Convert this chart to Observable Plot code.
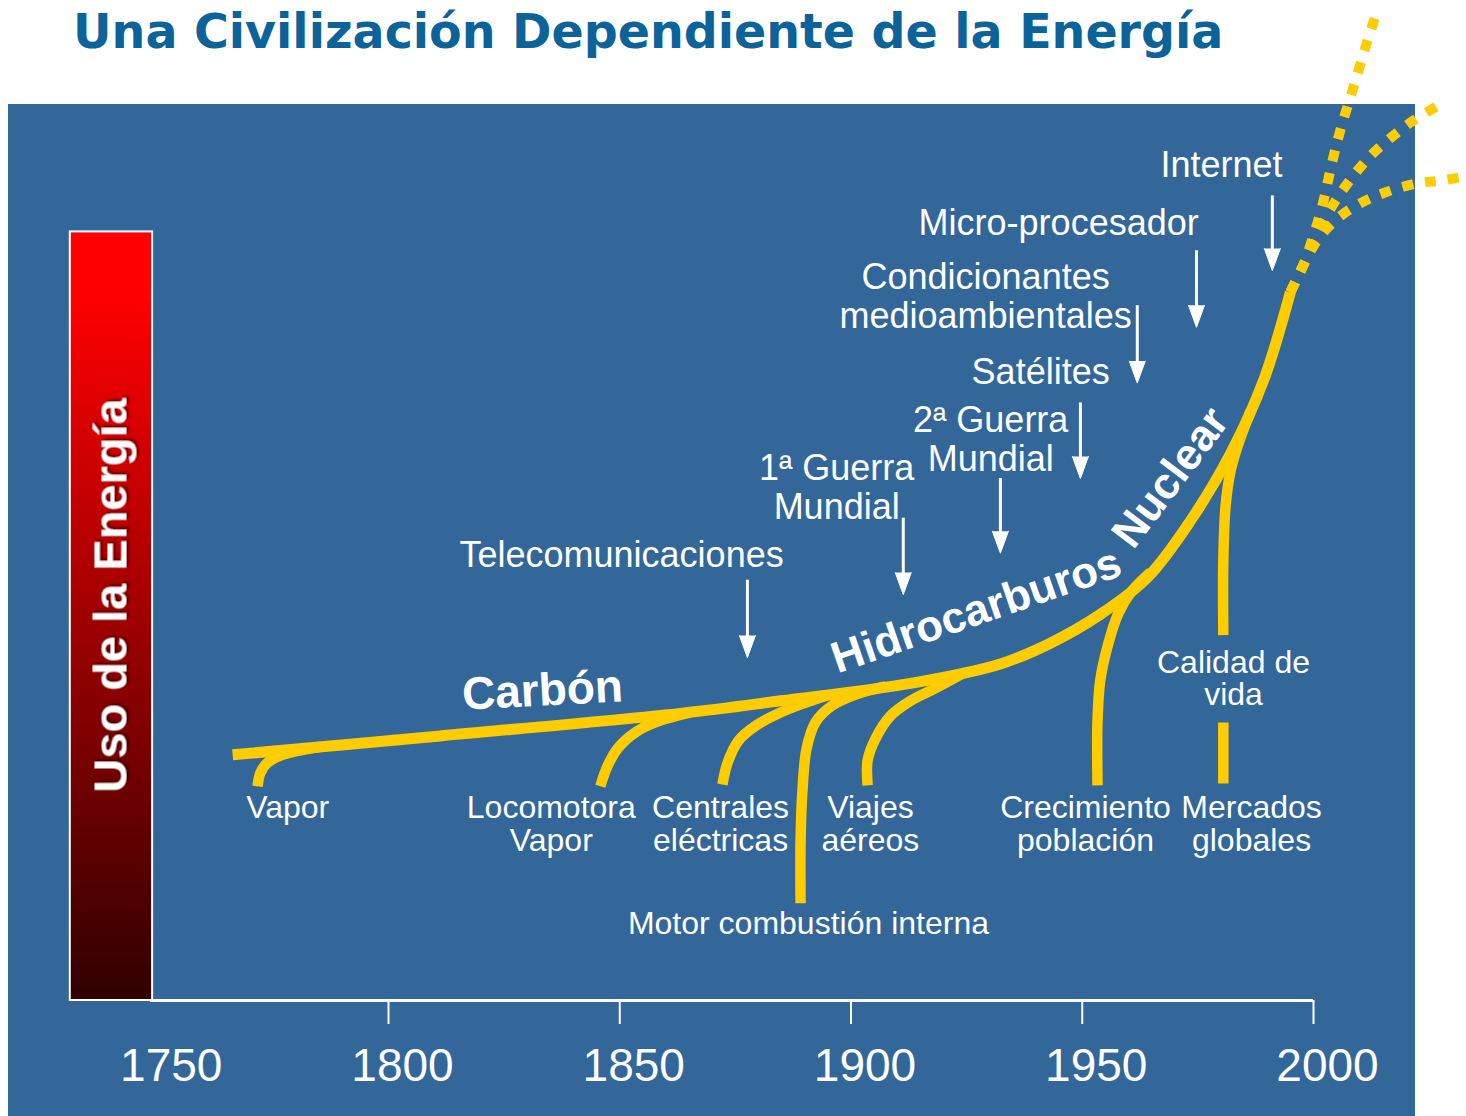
<!DOCTYPE html>
<html>
<head>
<meta charset="utf-8">
<script src="https://cdn.jsdelivr.net/npm/d3@7"></script>
<script src="https://cdn.jsdelivr.net/npm/@observablehq/plot@0.6"></script>
<style>
  html, body { margin: 0; padding: 0; background: #ffffff; }
  body { position: relative; width: 1466px; height: 1116px; overflow: hidden; }
  #title {
    position: absolute; left: 73px; top: 8px; margin: 0;
    font-family: "DejaVu Sans", Verdana, sans-serif; font-weight: bold;
    font-size: 47.5px; line-height: 47.5px; color: #0b6399; white-space: nowrap;
  }
  #chart { position: absolute; left: 8px; top: 104px; }
</style>
</head>
<body>
<h1 id="title">Una Civilización Dependiente de la Energía</h1>
<div id="chart"></div>
<script>
// ---------------- DATA (years, energy-use index) ----------------
const tickYears  = [1800, 1850, 1900, 1950, 2000];
const labelYears = [1750, 1800, 1850, 1900, 1950, 2000];

// Main energy-use curve
const mainYears  = [1766.3, 1811.2, 1863.1, 1884.8, 1913.5, 1932.3, 1943.1, 1953.9, 1964.1, 1973.4, 1982.1, 1989.2, 1995.0];
const mainEnergy = [27.3, 29.4, 31.9, 33.3, 35.3, 37.4, 39.7, 42.9, 47.0, 53.3, 60.8, 68.9, 78.7];

// Future scenarios (dotted)
const futureHigh = [[1995.0,78.7],[1997.8,81.7],[2000.0,85.0],[2001.9,88.3],[2004.1,93.3],[2005.8,96.7],[2008.6,101.4],[2011.7,106.7],[2013.8,110.0]];
const futureMid  = [[1995.0,78.7],[1997.8,81.7],[2000.6,85.0],[2004.8,88.9],[2009.5,92.2],[2013.0,94.2],[2017.3,96.1],[2021.4,97.7],[2026.8,99.4]];
const futureLow  = [[1995.0,78.7],[1997.8,81.7],[2001.1,84.7],[2005.2,86.9],[2010.2,88.6],[2015.6,89.8],[2022.5,90.8],[2027.5,91.1],[2033.1,91.6]];

// Branches feeding the curve [year, energy]
const vaporBranch       = [[1771.7,23.8],[1772.3,25.3],[1773.8,26.4],[1776.6,27.2],[1781.0,27.8],[1785.3,28.2]];
const locomotoraBranch  = [[1845.8,23.8],[1847.4,26.1],[1849.7,28.1],[1853.4,29.8],[1857.7,30.9],[1865.3,32.0]];
const centralesBranch   = [[1872.2,24.0],[1873.3,26.4],[1875.7,28.9],[1879.6,30.6],[1884.3,31.9],[1890.2,33.1],[1895.6,34.0]];
const motorBranch       = [[1889.1,10.8],[1889.1,17.8],[1889.5,23.3],[1890.4,28.0],[1892.3,30.9],[1896.0,32.8],[1901.0,34.0],[1907.5,34.9]];
const viajesBranch      = [[1903.6,23.9],[1903.6,26.7],[1905.3,29.1],[1908.5,31.6],[1912.9,33.3],[1918.3,34.7],[1924.8,36.5]];
const crecimientoBranch = [[1953.3,23.9],[1953.3,31.1],[1953.9,35.6],[1955.5,39.4],[1957.8,43.0],[1960.9,45.6],[1964.8,47.6]];
const mercadosBranch    = [[1980.5,24.1],[1980.5,30.9],[1980.5,NaN],[1980.5,40.6],[1980.5,48.9],[1981.0,55.0],[1982.1,58.9],[1983.8,61.9],[1986.4,65.5]];

// Driver labels at the branch ends
const driverLabels = ["Vapor", "Locomotora\nVapor", "Centrales\neléctricas", "Viajes\naéreos", "Crecimiento\npoblación", "Mercados\nglobales", "Motor combustión interna", "Calidad de\nvida"];
const driverYears  = [1778.2, 1835.2, 1871.8, 1904.2, 1950.7, 1986.6, 1890.8, 1982.7];
const driverEnergy = [22.8, 22.8, 22.8, 22.8, 22.8, 22.8, 10.0, 39.0];

// Milestones with arrows
const milestoneLabels = ["Telecomunicaciones", "1ª Guerra\nMundial", "2ª Guerra\nMundial", "Satélites", "Condicionantes\nmedioambientales", "Micro-procesador", "Internet"];
const milestoneYears  = [1850.4, 1896.9, 1930.2, 1941.0, 1929.1, 1944.9, 1980.1];
const milestoneEnergy = [51.2, 60.9, 66.2, 71.6, 82.1, 88.1, 94.6];
const arrowYears = [1877.6, 1911.3, 1932.3, 1949.6, 1961.9, 1974.7, 1991.1];
const arrowTop   = [46.7, 53.6, 58.0, 66.4, 77.2, 83.3, 89.4];
const arrowTip   = [38.1, 45.1, 49.7, 58.0, 68.6, 74.8, 81.1];

// Energy eras written along the curve
const eraLabels = ["Carbón", "Hidrocarburos", "Nuclear"];
const eraYears  = [1833.3, 1927.1, 1969.1];
const eraEnergy = [34.4, 43.3, 58.1];

// ---------------- LAYOUT / STYLE ----------------
const eraRotation = [-3, -19, -53];
const eraFontSize = [46, 44, 44];
const YELLOW = "#ffcc00";
const PANEL = "#336699";
const FONT = "'Liberation Sans', Arial, Helvetica, sans-serif";
const arrowShaftGap = 1.3;   // energy units left for the arrow head

// ---------------- TABLES ----------------
const mainRows = mainYears.map((year, i) => ({year, energy: mainEnergy[i]}));
const futureRows = [["high", futureHigh], ["mid", futureMid], ["low", futureLow]]
  .flatMap(([name, pts]) => pts.map(([year, energy]) => ({name, year, energy})));
const branchRows = [
  ["vapor", vaporBranch], ["locomotora", locomotoraBranch], ["centrales", centralesBranch],
  ["motor", motorBranch], ["viajes", viajesBranch], ["crecimiento", crecimientoBranch], ["mercados", mercadosBranch]
].flatMap(([name, pts]) => pts.map(([year, energy]) => ({name, year, energy})));
const driverRows = driverLabels.map((label, i) => ({label, year: driverYears[i], energy: driverEnergy[i]}));
const milestoneRows = milestoneLabels.map((label, i) => ({label, year: milestoneYears[i], energy: milestoneEnergy[i]}));
const arrowRows = arrowYears.map((year, i) => ({year, top: arrowTop[i], tip: arrowTip[i]}));
const eraRows = eraLabels.map((label, i) => ({label, year: eraYears[i], energy: eraEnergy[i], angle: eraRotation[i], size: eraFontSize[i]}));

// ---------------- PLOT ----------------
const plot = Plot.plot({
  width: 1407,
  height: 1012,
  marginLeft: 148.75,
  marginRight: 102,
  marginTop: 86,
  marginBottom: 116,
  x: {domain: [1750, 2000], label: null},
  y: {domain: [0, 90], axis: null, label: null},
  style: {background: PANEL, overflow: "visible", fontFamily: FONT, color: "white"},
  marks: [
    // energy-use gradient bar
    Plot.rect([0], {x1: 1731.2, x2: 1749.0, y1: 0, y2: 85.4, fill: "url(#energyGrad)", stroke: "white", strokeWidth: 2}),
    Plot.text(["Uso de la Energía"], {x: 1740.1, y: 45, text: d => d, rotate: -90, fontSize: 47, fontWeight: "bold", fill: "white", textAnchor: "middle", lineAnchor: "middle", fontFamily: FONT}),
    // x axis
    Plot.ruleY([0], {x1: 1748.5, x2: 2000, stroke: "white", strokeWidth: 3}),
    Plot.axisX(tickYears, {tickSize: 24, tickFormat: () => "", label: null, stroke: "white", strokeWidth: 2}),
    Plot.axisX(labelYears, {tickSize: 0, tickPadding: 48, fontSize: 46, fill: "white", dx: 14, label: null, tickFormat: d => `${d}`}),
    // future scenarios
    Plot.line(futureRows, {x: "year", y: "energy", z: "name", curve: "catmull-rom", stroke: YELLOW, strokeWidth: 10, strokeDasharray: "11,12", strokeLinecap: "butt"}),
    // branches
    Plot.line(branchRows, {x: "year", y: "energy", z: "name", curve: "catmull-rom", stroke: YELLOW, strokeWidth: 10.5, strokeLinecap: "butt"}),
    // main curve
    Plot.line(mainRows, {x: "year", y: "energy", curve: "catmull-rom", stroke: YELLOW, strokeWidth: 11, strokeLinecap: "butt"}),
    // milestone arrows
    Plot.ruleX(arrowRows, {x: "year", y1: "top", y2: d => d.tip + arrowShaftGap, stroke: "white", strokeWidth: 3}),
    Plot.vector(arrowRows, {x: "year", y: "tip", length: 22, r: 8, rotate: 180, anchor: "end", shape: "spike", fill: "white", fillOpacity: 1, stroke: "white", strokeWidth: 1}),
    // labels
    Plot.text(driverRows, {x: "year", y: "energy", text: "label", fontSize: 32, lineHeight: 1.02, fill: "white", textAnchor: "middle", lineAnchor: "top", fontFamily: FONT}),
    Plot.text(milestoneRows, {x: "year", y: "energy", text: "label", fontSize: 36, lineHeight: 1.08, fill: "white", textAnchor: "middle", lineAnchor: "top", fontFamily: FONT}),
    Plot.text(eraRows, {x: "year", y: "energy", text: "label", rotate: "angle", fontSize: "size", fontWeight: "bold", fill: "white", textAnchor: "middle", lineAnchor: "middle", fontFamily: FONT})
  ]
});

// gradient + shadow definitions
const ns = "http://www.w3.org/2000/svg";
const defs = document.createElementNS(ns, "defs");
defs.innerHTML = `
  <linearGradient id="energyGrad" x1="0" y1="0" x2="0" y2="1">
    <stop offset="0%" stop-color="#ff0000"/>
    <stop offset="8%" stop-color="#ff0000"/>
    <stop offset="100%" stop-color="#300000"/>
  </linearGradient>
  <filter id="txtShadow" x="-20%" y="-20%" width="140%" height="140%">
    <feDropShadow dx="2" dy="2" stdDeviation="1.6" flood-color="#000" flood-opacity="0.55"/>
  </filter>`;
plot.insertBefore(defs, plot.firstChild);
plot.querySelectorAll("text").forEach(t => {
  if (t.textContent === "Uso de la Energía") t.setAttribute("filter", "url(#txtShadow)");
});
document.getElementById("chart").appendChild(plot);
</script>
</body>
</html>
